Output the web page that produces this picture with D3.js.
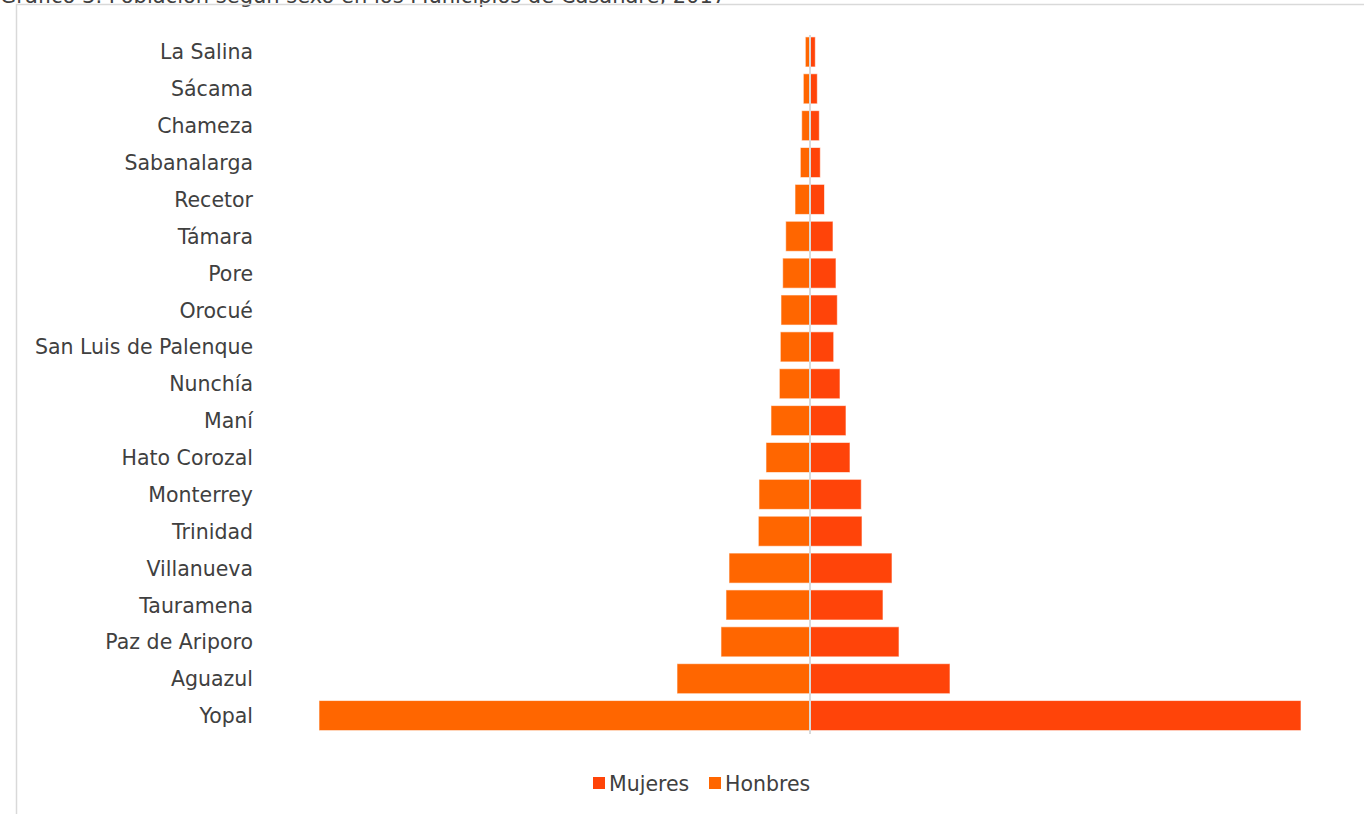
<!DOCTYPE html>
<html>
<head>
<meta charset="utf-8">
<script src="https://cdn.jsdelivr.net/npm/d3@7"></script>
<style>
html,body{margin:0;padding:0;background:#fff;}
svg{display:block;}
</style>
</head>
<body>
<svg id="chart" width="1364" height="814"></svg>
<script>
const municipios = ["La Salina","Sácama","Chameza","Sabanalarga","Recetor","Támara","Pore","Orocué","San Luis de Palenque","Nunchía","Maní","Hato Corozal","Monterrey","Trinidad","Villanueva","Tauramena","Paz de Ariporo","Aguazul","Yopal"];
const hombres = [690,985,1220,1425,2205,3570,4015,4265,4365,4510,5735,6470,7500,7600,11905,12350,13085,19550,72180];
const mujeres = [780,1075,1370,1515,2130,3380,3820,4015,3485,4410,5290,5880,7540,7645,12055,10730,13085,20580,72180];
const seriesNames = ["Mujeres","Honbres"];
const titleText = "Gráfico 3. Población según sexo en los Municipios de Casanare, 2017";

const FONT = "'DejaVu Sans', sans-serif";
const FS = 20.5;
const colMuj = "#FF4409";
const colHom = "#FF6600";
const txtCol = "#404040";
const svg = d3.select("#chart");

// title (cut off at top, as in the reference)
svg.append("text").attr("x",0).attr("y",3)
  .attr("font-family",FONT).attr("font-size",21).attr("fill",txtCol)
  .text(titleText);

// frame
svg.append("path").attr("d","M16.5,814 V4.5 H1364")
  .attr("fill","none").attr("stroke","#d9d9d9").attr("stroke-width",1.5);

const cx = 810;
const maxV = 72180;
const y = d3.scaleBand().domain(municipios).range([33.5,734]).paddingInner(0.185).paddingOuter(0.0925);
const xr = d3.scaleLinear().domain([0,maxV]).range([cx, cx+491]);
const xl = d3.scaleLinear().domain([0,maxV]).range([cx, cx-491]);

const g = svg.append("g");
g.selectAll("rect.h").data(municipios).join("rect").attr("class","h")
  .attr("x",(d,i)=>xl(hombres[i])).attr("width",(d,i)=>cx-xl(hombres[i]))
  .attr("y",d=>y(d)).attr("height",y.bandwidth())
  .attr("fill",colHom).attr("stroke","#fff").attr("stroke-opacity",0.6).attr("stroke-width",1);
g.selectAll("rect.m").data(municipios).join("rect").attr("class","m")
  .attr("x",cx).attr("width",(d,i)=>xr(mujeres[i])-cx)
  .attr("y",d=>y(d)).attr("height",y.bandwidth())
  .attr("fill",colMuj).attr("stroke","#fff").attr("stroke-opacity",0.6).attr("stroke-width",1);

// center axis line
svg.append("line").attr("x1",cx).attr("x2",cx).attr("y1",35).attr("y2",734)
  .attr("stroke","#d9d9d9").attr("stroke-width",2);

// category axis labels
const yAxis = d3.axisLeft(y).tickSize(0).tickPadding(0);
const ax = svg.append("g").attr("transform","translate(253,1)").call(yAxis);
ax.select(".domain").remove();
ax.selectAll("text").attr("font-family",FONT).attr("font-size",FS).attr("fill",txtCol);

// legend
const leg = svg.append("g");
const legX = [593, 709];
const legCol = [colMuj, colHom];
seriesNames.forEach((n,i)=>{
  leg.append("rect").attr("x",legX[i]).attr("y",777).attr("width",12).attr("height",12).attr("fill",legCol[i]);
  leg.append("text").attr("x",legX[i]+16).attr("y",784).attr("dy","0.35em")
    .attr("font-family",FONT).attr("font-size",FS).attr("fill",txtCol).text(n);
});
</script>
</body>
</html>
